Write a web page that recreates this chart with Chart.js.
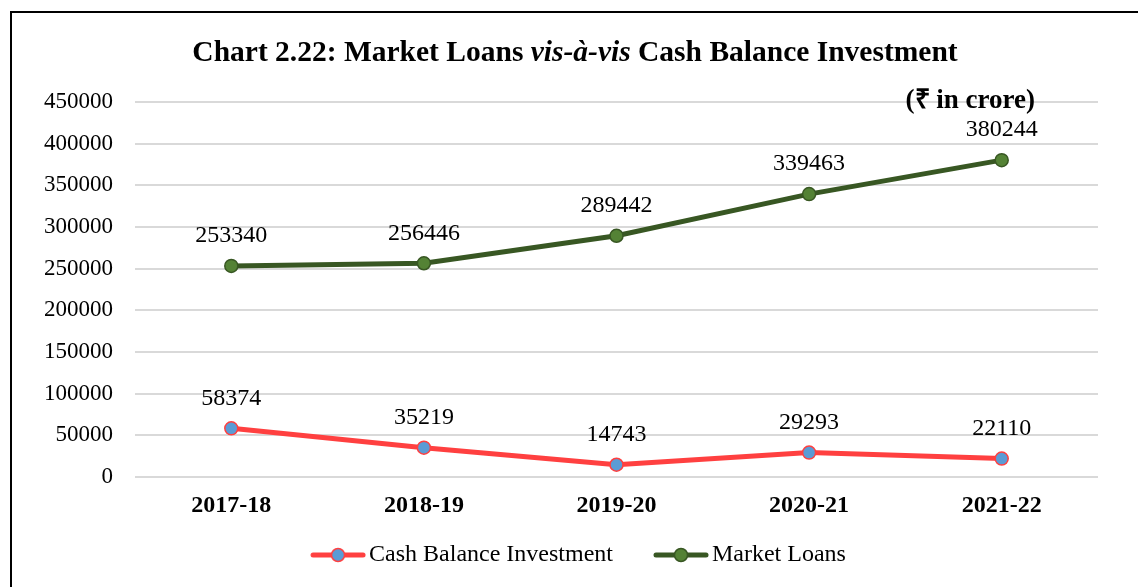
<!DOCTYPE html>
<html>
<head>
<meta charset="utf-8">
<script src="https://cdn.jsdelivr.net/npm/chart.js"></script>
<style>
  html, body { margin: 0; padding: 0; background: #fff; }
  body { width: 1138px; height: 587px; position: relative; overflow: hidden; font-family: "Liberation Serif", "Times New Roman", serif; }
  .frame { position: absolute; left: 10px; top: 11px; width: 1200px; height: 700px; border-top: 2px solid #000; border-left: 2px solid #000; }
  .title { position: absolute; left: 0; width: 1150px; top: 35px; text-align: center; font-weight: bold; font-size: 29.5px; color: #000; }
  .unit { position: absolute; right: 103px; top: 79px; font-weight: bold; font-size: 27px; color: #000; }
  #wrap { position: absolute; left: 0; top: 0; width: 1138px; height: 587px; }
</style>
</head>
<body>
<div class="frame"></div>
<div id="wrap"><canvas id="myChart" width="1138" height="587"></canvas></div>
<div class="title">Chart 2.22: Market Loans <i>vis-à-vis</i> Cash Balance Investment</div>
<div class="unit">(&#8377; in crore)</div>
<script>
var years = ['2017-18', '2018-19', '2019-20', '2020-21', '2021-22'];
var cashBalance = [58374, 35219, 14743, 29293, 22110];
var marketLoans = [253340, 256446, 289442, 339463, 380244];
var yTicks = [0, 50000, 100000, 150000, 200000, 250000, 300000, 350000, 400000, 450000];

var serif = '"Liberation Serif", "Times New Roman", serif';

// line + dot picture for the legend, pushed to the right side of the canvas
// so it sits close to its text
function legendIcon(lineColor, fill, border) {
    var c = document.createElement('canvas');
    c.width = 88; c.height = 16;
    var g = c.getContext('2d');
    g.strokeStyle = lineColor;
    g.lineWidth = 5;
    g.lineCap = 'round';
    g.beginPath(); g.moveTo(35, 8); g.lineTo(85, 8); g.stroke();
    g.beginPath(); g.arc(60, 8, 6.5, 0, Math.PI * 2);
    g.fillStyle = fill; g.fill();
    g.lineWidth = 1.5; g.strokeStyle = border; g.stroke();
    return c;
}

var valueLabels = {
    id: 'valueLabels',
    afterDatasetsDraw: function(chart) {
        var c = chart.ctx;
        c.save();
        c.font = '24px ' + serif;
        c.fillStyle = '#000';
        c.textAlign = 'center';
        c.textBaseline = 'middle';
        chart.data.datasets.forEach(function(ds, i) {
            chart.getDatasetMeta(i).data.forEach(function(pt, j) {
                c.fillText(String(ds.data[j]), pt.x, pt.y - 30);
            });
        });
        c.restore();
    }
};

var ctx = document.getElementById('myChart').getContext('2d');
var myChart = new Chart(ctx, {
    type: 'line',
    data: {
        labels: years,
        datasets: [{
            label: 'Cash Balance Investment',
            data: cashBalance,
            borderColor: '#ff4040',
            borderWidth: 5,
            pointRadius: 6.5,
            pointHoverRadius: 6.5,
            pointBackgroundColor: '#5b9bd5',
            pointBorderColor: '#ff4040',
            pointBorderWidth: 1.5,
            tension: 0,
            legendIcon: legendIcon('#ff4040', '#5b9bd5', '#ff4040')
        }, {
            label: 'Market Loans',
            data: marketLoans,
            borderColor: '#385723',
            borderWidth: 5,
            pointRadius: 6.5,
            pointHoverRadius: 6.5,
            pointBackgroundColor: '#548235',
            pointBorderColor: '#385723',
            pointBorderWidth: 1.5,
            tension: 0,
            legendIcon: legendIcon('#385723', '#548235', '#385723')
        }]
    },
    options: {
        responsive: false,
        animation: false,
        layout: {
            padding: { left: 35, right: 40, top: 102, bottom: 10 }
        },
        plugins: {
            title: { display: false },
            tooltip: { enabled: false },
            legend: {
                position: 'bottom',
                labels: {
                    usePointStyle: true,
                    pointStyleWidth: 70,
                    padding: 17,
                    color: '#000',
                    font: { family: serif, size: 24 },
                    generateLabels: function(chart) {
                        return chart.data.datasets.map(function(ds, i) {
                            return {
                                text: ds.label,
                                pointStyle: ds.legendIcon,
                                fillStyle: ds.borderColor,
                                strokeStyle: ds.borderColor,
                                lineWidth: 0,
                                fontColor: '#000',
                                hidden: false,
                                datasetIndex: i
                            };
                        });
                    }
                }
            }
        },
        scales: {
            x: {
                offset: true,
                grid: { display: false, drawTicks: false },
                border: { display: false },
                ticks: {
                    color: '#000',
                    padding: 14,
                    font: { family: serif, size: 24, weight: 'bold' }
                },
                afterFit: function(axis) { axis.height = 49; }
            },
            y: {
                min: 0,
                max: 450000,
                afterBuildTicks: function(axis) {
                    axis.ticks = yTicks.map(function(v) { return { value: v }; });
                },
                grid: { color: '#d9d9d9', lineWidth: 2, drawTicks: false },
                border: { display: false },
                ticks: {
                    color: '#000',
                    padding: 22,
                    font: { family: serif, size: 23 },
                    callback: function(v) { return String(v); }
                },
                afterFit: function(axis) { axis.width = 100; }
            }
        }
    },
    plugins: [valueLabels]
});
</script>
</body>
</html>
